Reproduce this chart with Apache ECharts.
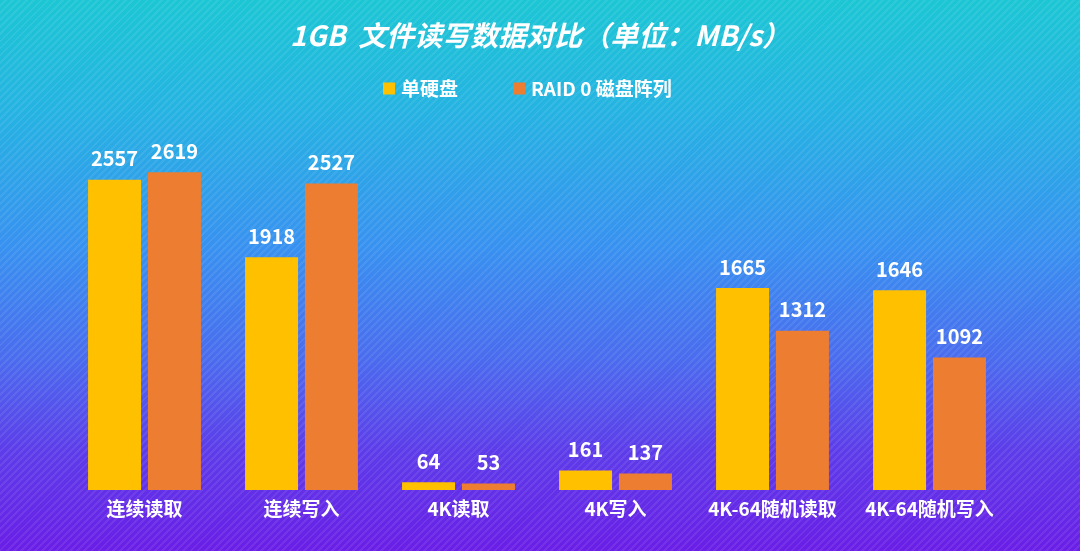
<!DOCTYPE html>
<html>
<head>
<meta charset="utf-8">
<script src="https://cdn.jsdelivr.net/npm/echarts@6/dist/echarts.min.js"></script>
<style>
html,body{margin:0;padding:0;}
#chart{width:1080px;height:551px;
background:
 repeating-linear-gradient(-45deg, rgba(255,255,255,0) 0px, rgba(255,255,255,0) 3px, rgba(255,255,255,0.08) 3px, rgba(255,255,255,0.08) 5px),
 linear-gradient(180deg, #1cc6d4 0%, #25b3e2 20%, #3891f0 45%, #4a6cee 65%, #5d3ce9 82%, #6a1ee6 100%);}
</style>
</head>
<body>
<div id="chart"></div>
<script>
const categories = ['连续读取', '连续写入', '4K读取', '4K写入', '4K-64随机读取', '4K-64随机写入'];
const singleDisk = [2557, 1918, 64, 161, 1665, 1646];
const raid0 = [2619, 2527, 53, 137, 1312, 1092];
const seriesNames = ['单硬盘', 'RAID 0 磁盘阵列'];
const titleText = '1GB  文件读写数据对比（单位：MB/s）';

const chart = echarts.init(document.getElementById('chart'));
const labelStyle = {show:true, position:'top', distance:11, color:'#fff', fontSize:20, fontWeight:'bold', fontFamily:'Noto Sans CJK SC'};
chart.setOption({
  backgroundColor:'transparent',
  animation:false,
  title:{text:titleText, left:'center', top:16, textStyle:{color:'#fff', fontSize:28, fontWeight:'bold', fontStyle:'italic', fontFamily:'Noto Sans CJK SC'}},
  legend:{data:seriesNames, top:74, left:378, itemWidth:12, itemHeight:12, itemGap:55, icon:'rect',
    textStyle:{color:'#fff', fontSize:19, fontWeight:'bold', fontFamily:'Noto Sans CJK SC', padding:[0,0,0,1]}},
  grid:{left:66, right:72, top:126, bottom:61, containLabel:false},
  xAxis:{type:'category', data:categories, axisLine:{show:false}, axisTick:{show:false},
    axisLabel:{interval:0, hideOverlap:false, color:'#fff', fontSize:19, fontWeight:'bold', margin:9, fontFamily:'Noto Sans CJK SC'}},
  yAxis:{type:'value', min:0, max:3000, show:false, splitLine:{show:false}},
  series:[
    {name:seriesNames[0], type:'bar', data:singleDisk, barWidth:53, barGap:'13%', itemStyle:{color:'#FFC000'}, label:labelStyle},
    {name:seriesNames[1], type:'bar', data:raid0, barWidth:53, barGap:'13%', itemStyle:{color:'#ED7D31'}, label:labelStyle}
  ]
});
</script>
</body>
</html>
